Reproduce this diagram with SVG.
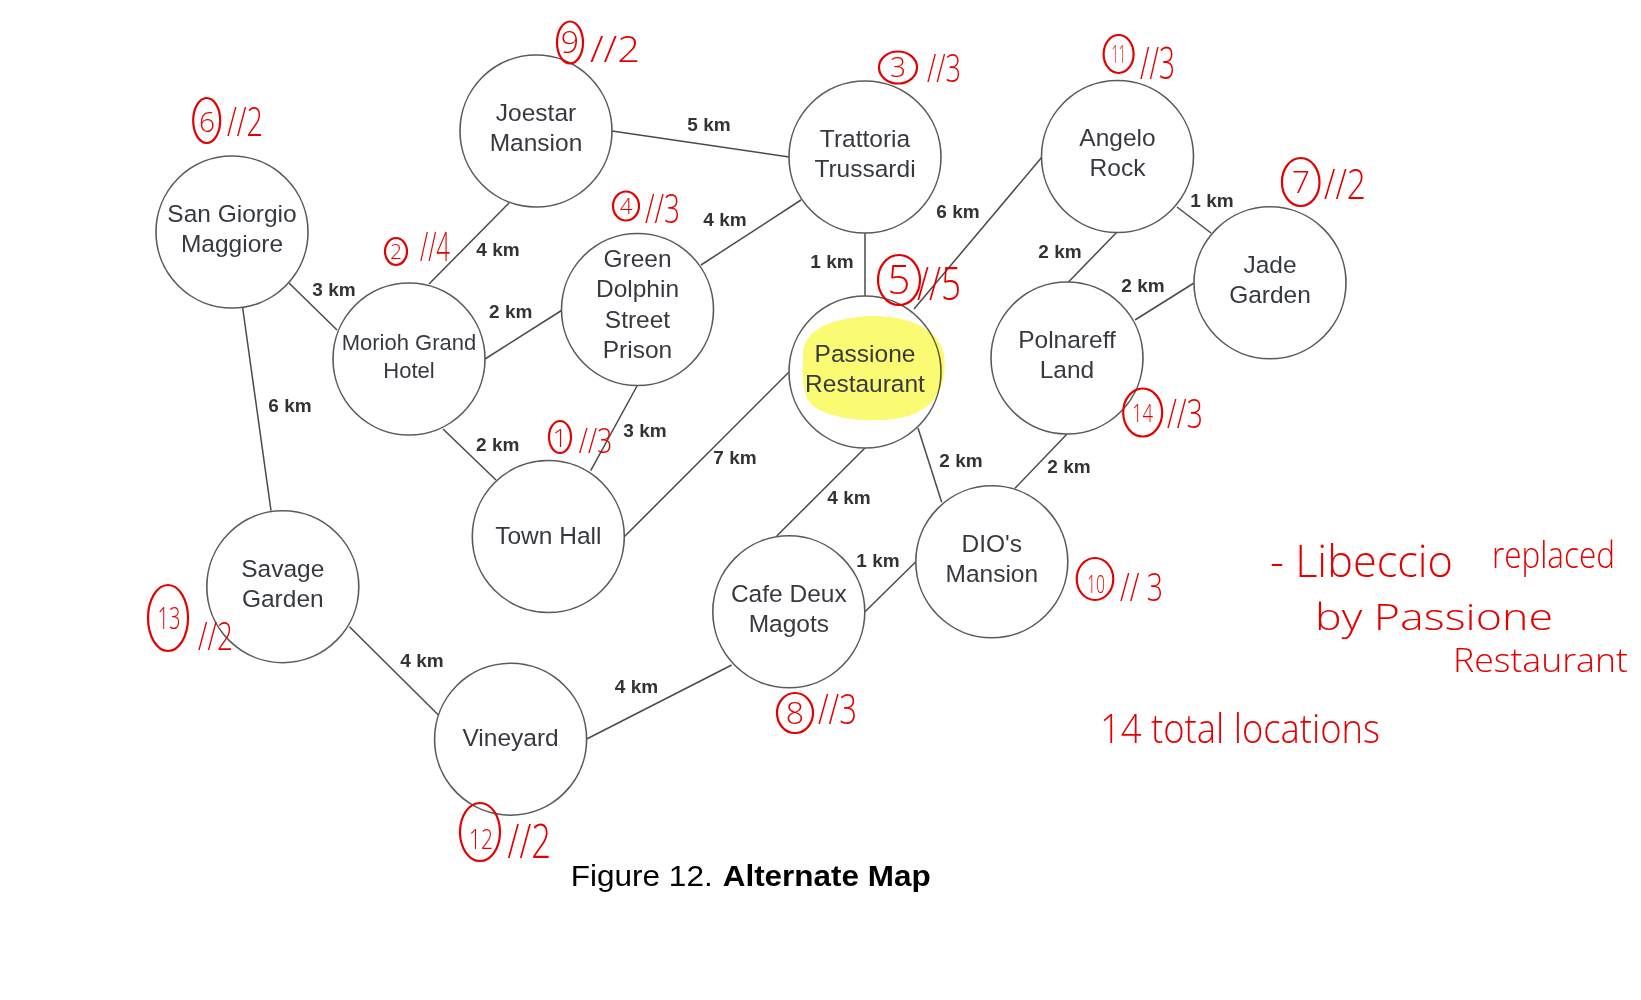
<svg xmlns="http://www.w3.org/2000/svg" width="1641" height="1000" viewBox="0 0 1641 1000">
<style>
  .node circle { fill: #ffffff; stroke: #5a5a5a; stroke-width: 1.6; }
  .nt { font-family: 'Liberation Sans', Arial, sans-serif; font-size: 24.5px; fill: #363a40; text-anchor: middle; }
  .nts { font-size: 22px; }
  .edges line { stroke: #4a4a4a; stroke-width: 1.5; }
  .el { font-family: 'Liberation Sans', Arial, sans-serif; font-size: 19px; font-weight: bold; fill: #333333; text-anchor: middle; }
  .hc { fill: none; stroke: #e50000; stroke-width: 2.2; }
  .hw { font-family: 'Open Sans', 'Liberation Sans', sans-serif; font-weight: 300; fill: #e50000; }
  .hm { text-anchor: middle; }
  .cap { font-family: 'Liberation Sans', Arial, sans-serif; font-size: 30px; fill: #000000; }
</style>
<rect x="0" y="0" width="1641" height="1000" fill="#ffffff"/>

<g id="connectors" class="edges">
  <line x1="612" y1="131" x2="789" y2="157"/>
  <line x1="801" y1="200" x2="701" y2="265"/>
  <line x1="865" y1="233" x2="865" y2="296"/>
  <line x1="1042" y1="157" x2="914" y2="309"/>
  <line x1="1177" y1="207" x2="1211" y2="233"/>
  <line x1="1117" y1="232" x2="1067.5" y2="283"/>
  <line x1="1135" y1="320" x2="1194" y2="283"/>
  <line x1="509" y1="203" x2="429" y2="284"/>
  <line x1="289" y1="283" x2="337" y2="330"/>
  <line x1="485" y1="359" x2="561.5" y2="310.5"/>
  <line x1="242.7" y1="308" x2="271" y2="510.7"/>
  <line x1="443" y1="429" x2="496" y2="480"/>
  <line x1="637" y1="386" x2="590.7" y2="470.7"/>
  <line x1="624.5" y1="536.5" x2="789" y2="372"/>
  <line x1="918" y1="428" x2="941.7" y2="502.3"/>
  <line x1="1067" y1="434" x2="1015" y2="488.3"/>
  <line x1="865" y1="448" x2="776.7" y2="536"/>
  <line x1="865" y1="611.8" x2="915.8" y2="561.8"/>
  <line x1="349.5" y1="626.7" x2="438.4" y2="715"/>
  <line x1="586.7" y1="739" x2="731.7" y2="665"/>
</g>

<g id="edge-labels">
  <text class="el" x="709" y="131">5 km</text>
  <text class="el" x="725" y="225.7">4 km</text>
  <text class="el" x="958" y="218">6 km</text>
  <text class="el" x="832" y="268">1 km</text>
  <text class="el" x="1212" y="206.7">1 km</text>
  <text class="el" x="1060" y="258">2 km</text>
  <text class="el" x="1143" y="292">2 km</text>
  <text class="el" x="498" y="256">4 km</text>
  <text class="el" x="334" y="295.7">3 km</text>
  <text class="el" x="510.7" y="317.7">2 km</text>
  <text class="el" x="290" y="412">6 km</text>
  <text class="el" x="497.7" y="450.7">2 km</text>
  <text class="el" x="645" y="437">3 km</text>
  <text class="el" x="735" y="464">7 km</text>
  <text class="el" x="961" y="466.7">2 km</text>
  <text class="el" x="1069" y="473">2 km</text>
  <text class="el" x="849" y="504">4 km</text>
  <text class="el" x="878" y="566.7">1 km</text>
  <text class="el" x="422" y="666.7">4 km</text>
  <text class="el" x="636.5" y="693">4 km</text>
</g>

<g id="node-san-giorgio" class="node">
  <circle cx="232" cy="232" r="76"/>
  <text class="nt" x="232" y="221.7">San Giorgio</text>
  <text class="nt" x="232" y="251.7">Maggiore</text>
</g>
<g id="node-joestar" class="node">
  <circle cx="536" cy="131" r="76"/>
  <text class="nt" x="536" y="121">Joestar</text>
  <text class="nt" x="536" y="151">Mansion</text>
</g>
<g id="node-trattoria" class="node">
  <circle cx="865" cy="157" r="76"/>
  <text class="nt" x="865" y="146.5">Trattoria</text>
  <text class="nt" x="865" y="176.5">Trussardi</text>
</g>
<g id="node-angelo" class="node">
  <circle cx="1117.5" cy="156.5" r="76"/>
  <text class="nt" x="1117.5" y="146">Angelo</text>
  <text class="nt" x="1117.5" y="176">Rock</text>
</g>
<g id="node-jade" class="node">
  <circle cx="1270" cy="282.8" r="76"/>
  <text class="nt" x="1270" y="272.5">Jade</text>
  <text class="nt" x="1270" y="302.5">Garden</text>
</g>
<g id="node-morioh" class="node">
  <circle cx="409" cy="359" r="76"/>
  <text class="nt nts" x="409" y="350">Morioh Grand</text>
  <text class="nt nts" x="409" y="377.7">Hotel</text>
</g>
<g id="node-green-dolphin" class="node">
  <circle cx="637.5" cy="309.5" r="76"/>
  <text class="nt" x="637.5" y="266.7">Green</text>
  <text class="nt" x="637.5" y="297.3">Dolphin</text>
  <text class="nt" x="637.5" y="328.3">Street</text>
  <text class="nt" x="637.5" y="358.3">Prison</text>
</g>
<g id="node-passione" class="node">
  <circle cx="865" cy="372" r="76"/>
  <path d="M 803 355 C 803 330, 830 318, 870 316 C 910 315, 940 330, 944 355 C 948 385, 935 412, 900 418 C 870 423, 830 420, 812 405 C 800 393, 803 370, 803 355 Z" fill="#fbfa73" style="mix-blend-mode:multiply"/>
  <text class="nt" x="865" y="361.7">Passione</text>
  <text class="nt" x="865" y="391.7">Restaurant</text>
</g>
<g id="node-polnareff" class="node">
  <circle cx="1067" cy="358" r="76"/>
  <text class="nt" x="1067" y="347.5">Polnareff</text>
  <text class="nt" x="1067" y="377.5">Land</text>
</g>
<g id="node-town-hall" class="node">
  <circle cx="548.3" cy="536.5" r="76"/>
  <text class="nt" x="548.3" y="543.5">Town Hall</text>
</g>
<g id="node-dio" class="node">
  <circle cx="991.8" cy="561.8" r="76"/>
  <text class="nt" x="991.8" y="551.5">DIO's</text>
  <text class="nt" x="991.8" y="581.5">Mansion</text>
</g>
<g id="node-savage" class="node">
  <circle cx="282.8" cy="586.7" r="76"/>
  <text class="nt" x="282.8" y="576.5">Savage</text>
  <text class="nt" x="282.8" y="606.5">Garden</text>
</g>
<g id="node-cafe" class="node">
  <circle cx="788.8" cy="611.8" r="76"/>
  <text class="nt" x="788.8" y="601.5">Cafe Deux</text>
  <text class="nt" x="788.8" y="631.5">Magots</text>
</g>
<g id="node-vineyard" class="node">
  <circle cx="510.6" cy="739.2" r="76"/>
  <text class="nt" x="510.6" y="745.5">Vineyard</text>
</g>

<g id="annotations">
  <ellipse class="hc" cx="570" cy="42.5" rx="13" ry="21"/>
  <text class="hw hm" x="570" y="53" font-size="32">9</text>
  <text class="hw" x="590" y="62" font-size="36" textLength="50" lengthAdjust="spacingAndGlyphs">//2</text>

  <ellipse class="hc" cx="206.7" cy="120.5" rx="13.5" ry="22.5"/>
  <text class="hw hm" x="207" y="132" font-size="28">6</text>
  <text class="hw" x="227" y="136" font-size="40" textLength="36" lengthAdjust="spacingAndGlyphs">//2</text>

  <ellipse class="hc" cx="396" cy="251.5" rx="11" ry="13.5"/>
  <text class="hw hm" x="396" y="259" font-size="21">2</text>
  <text class="hw" x="420" y="261" font-size="40" textLength="30" lengthAdjust="spacingAndGlyphs">//4</text>

  <ellipse class="hc" cx="626" cy="206" rx="13" ry="14.5"/>
  <text class="hw hm" x="626" y="214" font-size="22">4</text>
  <text class="hw" x="645" y="223" font-size="40" textLength="35" lengthAdjust="spacingAndGlyphs">//3</text>

  <ellipse class="hc" cx="898" cy="67.5" rx="19" ry="16"/>
  <text class="hw hm" x="898" y="77" font-size="28">3</text>
  <text class="hw" x="927" y="82" font-size="38" textLength="34" lengthAdjust="spacingAndGlyphs">//3</text>

  <ellipse class="hc" cx="1118.6" cy="54" rx="15" ry="19"/>
  <text class="hw hm" x="1118.6" y="63" font-size="26" textLength="14" lengthAdjust="spacingAndGlyphs">11</text>
  <text class="hw" x="1140" y="79" font-size="44" textLength="35" lengthAdjust="spacingAndGlyphs">//3</text>

  <ellipse class="hc" cx="1300.7" cy="182" rx="18.8" ry="24"/>
  <text class="hw hm" x="1301" y="193" font-size="32">7</text>
  <text class="hw" x="1324" y="199" font-size="42" textLength="42" lengthAdjust="spacingAndGlyphs">//2</text>

  <ellipse class="hc" cx="899" cy="280" rx="21" ry="25"/>
  <text class="hw hm" x="899" y="294" font-size="40">5</text>
  <text class="hw" x="917" y="300" font-size="46" textLength="44" lengthAdjust="spacingAndGlyphs">//5</text>

  <ellipse class="hc" cx="1142.7" cy="412.5" rx="19.5" ry="24"/>
  <text class="hw hm" x="1142.5" y="422" font-size="26" textLength="21" lengthAdjust="spacingAndGlyphs">14</text>
  <text class="hw" x="1167" y="428" font-size="40" textLength="36" lengthAdjust="spacingAndGlyphs">//3</text>

  <ellipse class="hc" cx="560" cy="437" rx="11" ry="16"/>
  <text class="hw hm" x="560" y="447" font-size="26">1</text>
  <text class="hw" x="578.8" y="453" font-size="35" textLength="33.6" lengthAdjust="spacingAndGlyphs">//3</text>

  <ellipse class="hc" cx="1095" cy="579" rx="18.3" ry="21"/>
  <text class="hw hm" x="1096" y="593" font-size="26" textLength="18" lengthAdjust="spacingAndGlyphs">10</text>
  <text class="hw" x="1120" y="601" font-size="39" textLength="43" lengthAdjust="spacingAndGlyphs">// 3</text>

  <ellipse class="hc" cx="168" cy="618" rx="20" ry="33"/>
  <text class="hw hm" x="169" y="629" font-size="32" textLength="23" lengthAdjust="spacingAndGlyphs">13</text>
  <text class="hw" x="198" y="650" font-size="38" textLength="35" lengthAdjust="spacingAndGlyphs">//2</text>

  <ellipse class="hc" cx="795" cy="713" rx="18" ry="20"/>
  <text class="hw hm" x="795" y="724" font-size="32">8</text>
  <text class="hw" x="818" y="724" font-size="42" textLength="39" lengthAdjust="spacingAndGlyphs">//3</text>

  <ellipse class="hc" cx="480" cy="832" rx="20" ry="29"/>
  <text class="hw hm" x="481" y="849" font-size="28" textLength="24" lengthAdjust="spacingAndGlyphs">12</text>
  <text class="hw" x="507.6" y="858" font-size="48" textLength="43.4" lengthAdjust="spacingAndGlyphs">//2</text>

  <text class="hw" x="1270" y="577" font-size="44" textLength="183" lengthAdjust="spacingAndGlyphs">- Libeccio</text>
  <text class="hw" x="1492" y="568" font-size="37" textLength="123" lengthAdjust="spacingAndGlyphs">replaced</text>
  <text class="hw" x="1315" y="630" font-size="37" textLength="238" lengthAdjust="spacingAndGlyphs">by Passione</text>
  <text class="hw" x="1453" y="672" font-size="33" textLength="175" lengthAdjust="spacingAndGlyphs">Restaurant</text>
  <text class="hw" x="1100" y="743" font-size="40" textLength="280" lengthAdjust="spacingAndGlyphs">14 total locations</text>
</g>

<g id="caption">
  <text class="cap" x="570.7" y="886" textLength="142" lengthAdjust="spacingAndGlyphs">Figure 12.</text>
  <text class="cap" x="722.7" y="886" font-weight="bold" textLength="208" lengthAdjust="spacingAndGlyphs">Alternate Map</text>
</g>
</svg>
